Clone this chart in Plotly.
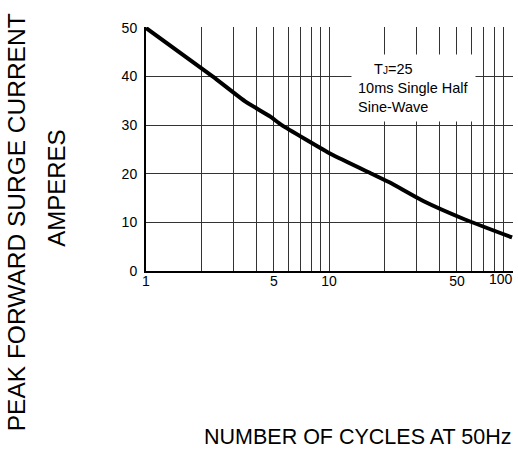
import plotly.graph_objects as go
import math

# Curve values
cycles = [1, 2.32, 3.48, 4.76, 5.52, 10.3, 17.1, 21.5, 32.7, 55.3, 100]
current = [50, 40, 34.9, 31.8, 30, 24.0, 20, 18.2, 14.4, 10.6, 6.9]

x_grid = [1, 2, 3, 4, 5, 6, 7, 8, 9, 10, 20, 30, 40, 50, 60, 70, 80, 90, 100]
x_labels = {1: "1", 5: "5", 10: "10", 50: "50"}
edge_label_value = 100
edge_label_text = "100"
y_ticks = [0, 10, 20, 30, 40, 50]

font_family = "Liberation Sans, Arial, sans-serif"

fig = go.Figure()
fig.add_trace(go.Scatter(
    x=cycles, y=current, mode="lines",
    line=dict(color="black", width=4, shape="spline", smoothing=0.4),
    showlegend=False, hoverinfo="skip", cliponaxis=False,
))

fig.update_layout(
    width=518, height=454,
    margin=dict(l=146, r=5, t=27, b=183, autoexpand=False),
    paper_bgcolor="white", plot_bgcolor="white",
    font=dict(family=font_family, color="black", size=14),
    xaxis=dict(
        type="log", range=[0, 2.005],
        tickvals=x_grid,
        ticktext=[x_labels.get(v, "") for v in x_grid],
        showgrid=True, gridcolor="#333", gridwidth=1,
        showline=True, linecolor="black", linewidth=2,
        ticks="", zeroline=False, automargin=False,
        ticklabelstandoff=-4,
        tickfont=dict(size=14),
    ),
    yaxis=dict(
        range=[0, 50.2], tickvals=y_ticks,
        showgrid=True, gridcolor="#333", gridwidth=1,
        showline=True, linecolor="black", linewidth=2,
        ticks="outside", ticklen=4, tickcolor="rgba(0,0,0,0)",
        zeroline=False, automargin=False, tickfont=dict(size=14),
    ),
    annotations=[
        dict(
            xref="x", yref="paper", x=math.log10(edge_label_value), y=0,
            xanchor="right", yanchor="top", xshift=3, yshift=2,
            text=edge_label_text, showarrow=False,
            font=dict(size=14, family=font_family),
        ),
        dict(
            xref="paper", yref="paper", x=0.730, y=0.749,
            xanchor="center", yanchor="middle",
            text="&nbsp;&nbsp;&nbsp;&nbsp;T<span style='font-size:10px'>J</span>=25<br>10ms Single Half<br>Sine-Wave",
            showarrow=False, align="left", bgcolor="white", borderpad=6,
            font=dict(size=14.5, family=font_family),
        ),
        dict(
            xref="paper", yref="paper", x=-0.354, y=0.20,
            xanchor="center", yanchor="middle",
            text="PEAK FORWARD SURGE CURRENT", textangle=-90, showarrow=False,
            font=dict(size=24.5, family=font_family),
        ),
        dict(
            xref="paper", yref="paper", x=-0.246, y=0.34,
            xanchor="center", yanchor="middle",
            text="AMPERES", textangle=-90, showarrow=False,
            font=dict(size=24, family=font_family),
        ),
        dict(
            xref="paper", yref="paper", x=1.0, y=-0.68,
            xanchor="right", yanchor="middle",
            text="NUMBER OF CYCLES AT 50Hz", showarrow=False,
            font=dict(size=21.5, family=font_family),
        ),
    ],
)

fig.write_html("out.html")
